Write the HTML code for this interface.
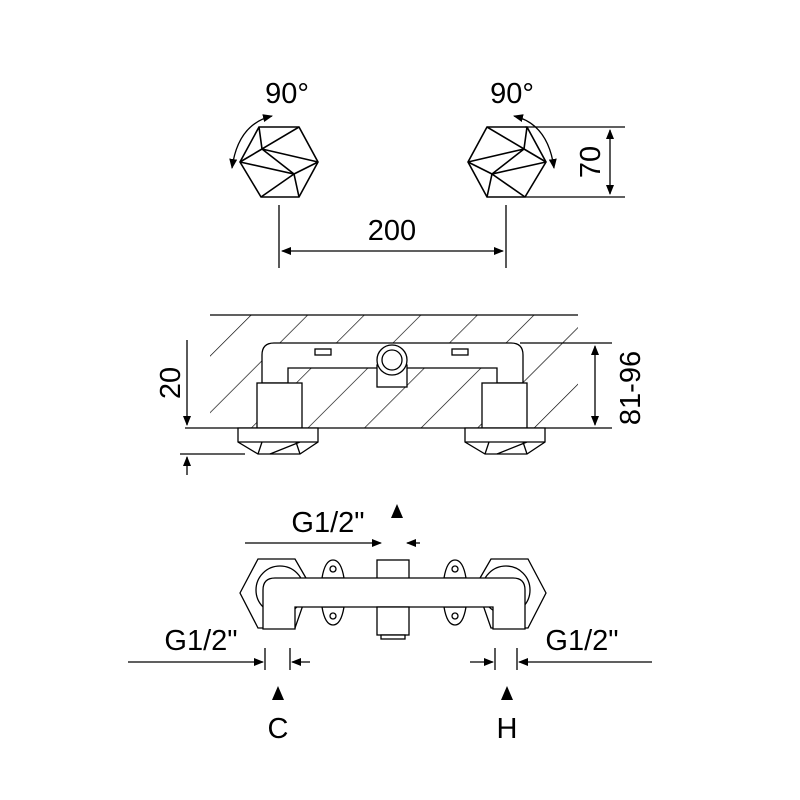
<!DOCTYPE html><html><head><style>body{margin:0;background:#fff}svg{display:block}text{font-family:"Liberation Sans",sans-serif;fill:#000}</style></head><body>
<svg width="800" height="800" viewBox="0 0 800 800" xmlns="http://www.w3.org/2000/svg">
<defs>
<marker id="a" markerWidth="10" markerHeight="8" refX="9" refY="4" orient="auto-start-reverse" markerUnits="userSpaceOnUse"><path d="M0,0L10,4L0,8z"/></marker>
<pattern id="h" width="40" height="40" patternUnits="userSpaceOnUse" patternTransform="rotate(45)"><line x1="0" y1="0" x2="0" y2="40" stroke="#000" stroke-width="1.3"/></pattern>
<g id="hex" fill="none" stroke="#000" stroke-width="1.6">
<path d="M-20,-35L20,-35L39,0L20,35L-18,35L-39,0Z"/>
<path d="M-20,-35L-17,-13L20,-35M-17,-13L-39,0M-17,-13L39,0M-39,0L15,12L39,0M15,12L-18,35M15,12L20,35M-17,-13L15,12"/>
</g>
</defs>
<g stroke="#000" stroke-width="1.3" fill="none">
<use href="#hex" x="279" y="162"/>
<g transform="translate(507,162) scale(-1,1)"><use href="#hex"/></g>
<path d="M232,168 Q238,124 272,116" marker-start="url(#a)" marker-end="url(#a)"/>
<path d="M554,168 Q548,124 514,116" marker-start="url(#a)" marker-end="url(#a)"/>
<path d="M525,127H625M525,197H625"/>
<path d="M610,130V194" marker-start="url(#a)" marker-end="url(#a)"/>
<path d="M279,205V268M506,205V268"/>
<path d="M282,251H503" marker-start="url(#a)" marker-end="url(#a)"/>
<rect x="210" y="315" width="368" height="113" fill="url(#h)" stroke="none"/>
<path d="M210,315H578M185,428H578M520,343H612M612,428H578"/>
<path d="M595,346V425" marker-start="url(#a)" marker-end="url(#a)"/>
<path d="M187,340V425" marker-end="url(#a)"/>
<path d="M187,475V457" marker-end="url(#a)"/>
<path d="M180,454H245"/>
<g fill="#fff">
<path d="M262,383V355Q262,343 274,343H511Q523,343 523,355V383H497V368H288V383Z"/>
<rect x="257" y="383" width="45" height="45"/><rect x="482" y="383" width="45" height="45"/>
<rect x="377" y="365" width="30" height="22"/>
<circle cx="392" cy="360" r="15"/><circle cx="392" cy="360" r="10"/>
<path d="M238,428H318V442L300,454H258L238,442Z"/><path d="M465,428H545V442L527,454H485L465,442Z"/>
<rect x="315" y="349" width="16" height="6"/><rect x="452" y="349" width="16" height="6"/>
</g>
<path d="M238,442H318M258,454L262,442M300,454L296,442M465,442H545M485,454L489,442M527,454L523,442M270,454L300,442M497,454L527,442"/>
<g fill="#fff">
<path d="M240,593L258,559H295L310,585L295,628H258Z"/>
<path d="M546,593L528,559H491L476,585L491,628H528Z"/>
<path d="M322,578Q325,560 333,560Q341,560 344,578Z M322,607Q325,625 333,625Q341,625 344,607Z"/>
<path d="M444,578Q447,560 455,560Q463,560 466,578Z M444,607Q447,625 455,625Q463,625 466,607Z"/>
<circle cx="280" cy="590" r="24"/><circle cx="506" cy="590" r="24"/>
<rect x="377" y="560" width="32" height="20"/>
<path d="M263,629V590Q263,578 275,578H513Q525,578 525,590V629H493V607H295V629Z"/>
<rect x="377" y="607" width="32" height="28"/><rect x="381" y="635" width="24" height="4"/>
</g>
<circle cx="333" cy="569" r="3"/><circle cx="333" cy="616" r="3"/><circle cx="455" cy="569" r="3"/><circle cx="455" cy="616" r="3"/>
<path d="M245,543H381" marker-end="url(#a)"/><path d="M420,543H407" marker-end="url(#a)"/>
<path d="M128,662H263" marker-end="url(#a)"/><path d="M310,662H292" marker-end="url(#a)"/>
<path d="M265,648V670M290,648V670"/>
<path d="M470,662H493" marker-end="url(#a)"/><path d="M652,662H519" marker-end="url(#a)"/>
<path d="M495,648V670M517,648V670"/>
</g>
<path d="M397,504L391,518H403Z M278,686L272,700H284Z M507,686L501,700H513Z"/>
<g font-size="29">
<text x="287" y="103" text-anchor="middle">90°</text>
<text x="512" y="103" text-anchor="middle">90°</text>
<text x="392" y="240" text-anchor="middle">200</text>
<text transform="translate(600,162) rotate(-90)" text-anchor="middle">70</text>
<text transform="translate(640,388) rotate(-90)" text-anchor="middle">81-96</text>
<text transform="translate(180,383) rotate(-90)" text-anchor="middle">20</text>
<text x="328" y="532" text-anchor="middle">G1/2"</text>
<text x="201" y="650" text-anchor="middle">G1/2"</text>
<text x="582" y="650" text-anchor="middle">G1/2"</text>
<text x="278" y="738" text-anchor="middle">C</text>
<text x="507" y="738" text-anchor="middle">H</text>
</g>
</svg></body></html>
